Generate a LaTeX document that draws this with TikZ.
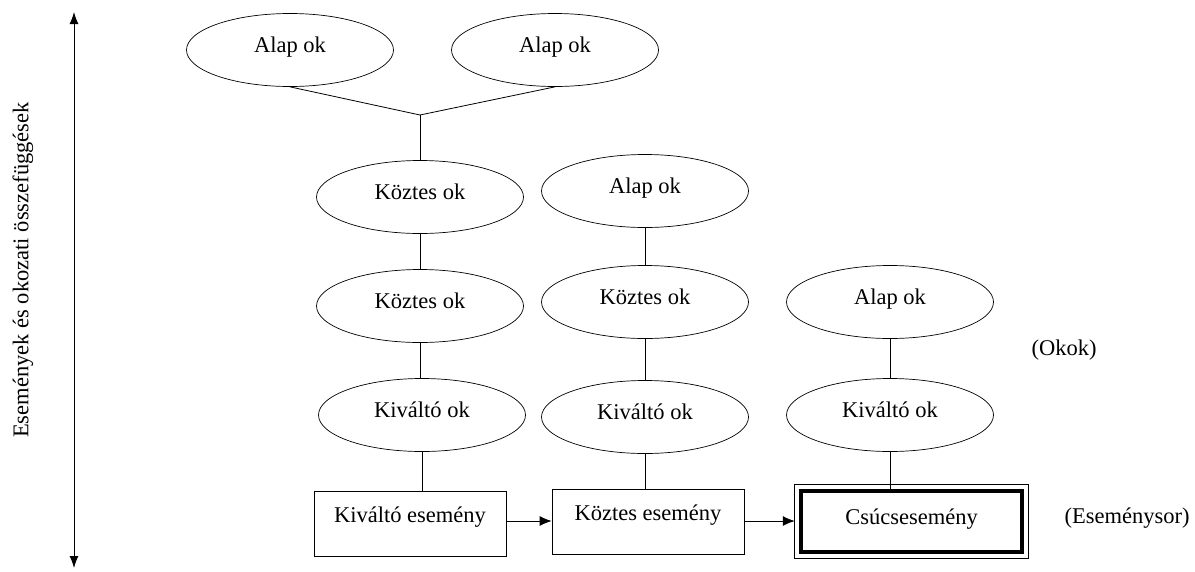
\documentclass[tikz,border=0pt]{standalone}
\usepackage{fontspec}
\setmainfont{Liberation Serif}
\usetikzlibrary{arrows.meta,shapes.geometric,calc}

\tikzset{
    ok/.style={draw, ellipse, line width=0.7pt, minimum width=207pt, minimum height=73pt, inner sep=0pt, text height=16pt, text depth=12pt},
    esemeny/.style={draw, rectangle, line width=0.8pt, minimum width=192pt, minimum height=65pt, inner sep=0pt, text height=14pt, text depth=18pt},
    nyil/.style={-{Latex[length=12pt,width=10pt]}, line width=0.8pt}
}

\begin{document}
\begin{tikzpicture}[x=1pt, y=-1pt, font=\fontsize{22.5}{27}\selectfont]
            \useasboundingbox (0, 0) rectangle (1195, 571);
            %\draw[lightgray] (0, 0) grid[step=50] (1195, 571);
            \draw[{Latex[length=12pt,width=9pt]}-{Latex[length=12pt,width=9pt]}, line width=1pt] (74, 12) -- (74, 568);
            \node[rotate=90] (tengely) at (23, 270) {Események és okozati összefüggések};

            \node[ok] (alap1) at (290, 50) {Alap ok};
            \node[ok] (alap2) at (555, 50) {Alap ok};
            \node[ok] (koz1a) at (420, 197) {Köztes ok};
            \node[ok] (alap3) at (645, 191) {Alap ok};
            \node[ok] (koz1b) at (420, 306) {Köztes ok};
            \node[ok] (koz2) at (645, 302) {Köztes ok};
            \node[ok] (alap4) at (890, 302) {Alap ok};
            \node[ok] (kiv1) at (422, 415) {Kiváltó ok};
            \node[ok] (kiv2) at (645, 417) {Kiváltó ok};
            \node[ok] (kiv3) at (890, 415) {Kiváltó ok};

            \node[esemeny] (kivesem) at (410, 524) {Kiváltó esemény};
            \node[esemeny] (kozesem) at (648, 522) {Köztes esemény};
            \node[esemeny, minimum width=221pt, minimum height=61pt, line width=4.5pt, text height=14pt, text depth=8pt] (csucs) at (911.5, 521.5) {Csúcsesemény};
            \draw[line width=0.8pt] ($(csucs.north west)+(-4pt,4pt)$) rectangle ($(csucs.south east)+(4pt,-4pt)$);

            \node (okok) at (1064, 350) {(Okok)};
            \node (sor) at (1127, 518) {(Eseménysor)};

            % osszekotesek
            \coordinate (ag) at (420, 115);
            \draw[line width=0.8pt] (alap1.south) -- (ag) -- (alap2.south);
            \draw[line width=0.8pt] (ag) -- (koz1a.north);
            \draw[line width=0.8pt] (koz1a.south) -- (koz1b.north);
            \draw[line width=0.8pt] (koz1b.south) -- (koz1b.south |- kiv1.north);
            \draw[line width=0.8pt] (kiv1.south) -- (kiv1.south |- kivesem.north);
            \draw[line width=0.8pt] (alap3.south) -- (koz2.north);
            \draw[line width=0.8pt] (koz2.south) -- (kiv2.north);
            \draw[line width=0.8pt] (kiv2.south) -- (kiv2.south |- kozesem.north);
            \draw[line width=0.8pt] (alap4.south) -- (kiv3.north);
            \draw[line width=0.8pt] (kiv3.south) -- ($(kiv3.south |- csucs.north)+(0,-4pt)$);
            \draw[nyil] (kivesem.east |- 0, 521) -- (kozesem.west |- 0, 521);
            \draw[nyil] (kozesem.east |- 0, 521) -- ($(csucs.west |- 0, 521)+(-4pt,0)$);
        \end{tikzpicture}
\end{document}
